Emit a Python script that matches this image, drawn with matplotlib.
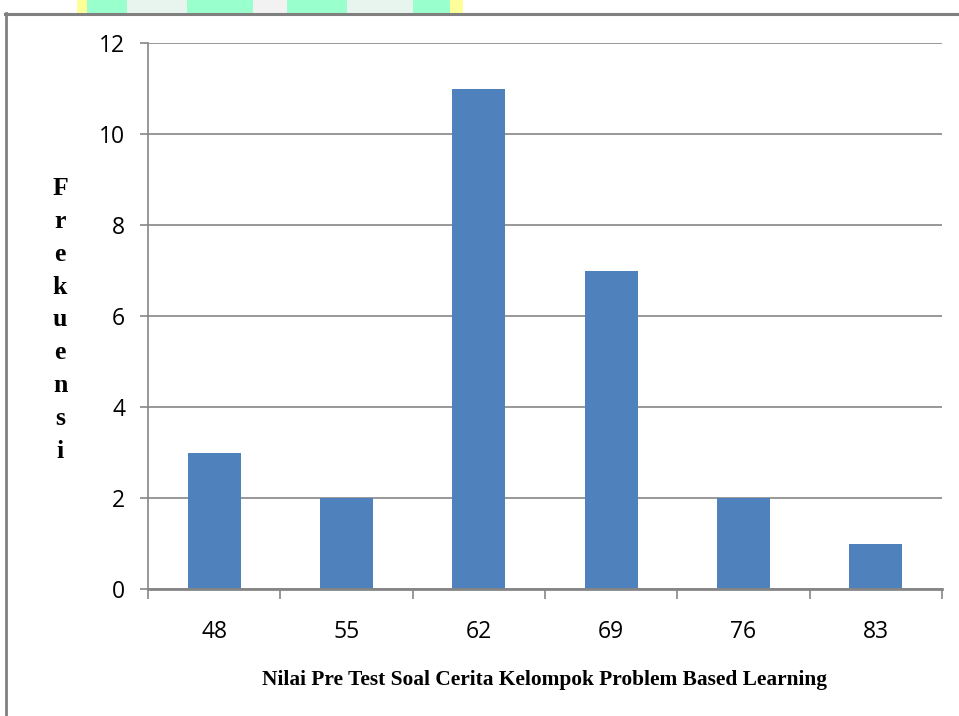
import matplotlib
matplotlib.use("Agg")
import matplotlib.pyplot as plt
from matplotlib.patches import Rectangle
from matplotlib.lines import Line2D
import numpy as np

categories = ["48", "55", "62", "69", "76", "83"]
values = [3, 2, 11, 7, 2, 1]
yticks = [0, 2, 4, 6, 8, 10, 12]
xlabel = "Nilai Pre Test Soal Cerita Kelompok Problem Based Learning"
ylabel = "Frekuensi"

W, H = 959, 716
fig = plt.figure(figsize=(W / 100, H / 100), dpi=100)

def fx(px):
    return px / W

def fy(py):
    return 1 - py / H

# watermark strip at top
strip = [(77, 87, "#FFFF99"), (87, 127, "#99FFCC"), (127, 187, "#E8F5EE"),
         (187, 253, "#99FFCC"), (253, 287, "#F2F2F2"), (287, 347, "#99FFCC"),
         (347, 413, "#E8F5EE"), (413, 450, "#99FFCC"), (450, 463, "#FFFF99")]
for x0, x1, c in strip:
    fig.add_artist(Rectangle((fx(x0), fy(13)), fx(x1) - fx(x0), 13 / H,
                             transform=fig.transFigure, color=c, lw=0, zorder=0))

# frame lines
fig.add_artist(Line2D([fx(6), fx(6)], [fy(13), 0], transform=fig.transFigure,
                      color="#808080", lw=2))
fig.add_artist(Line2D([fx(5), 1], [fy(13.5), fy(13.5)], transform=fig.transFigure,
                      color="#808080", lw=2.2))

ax = fig.add_axes([fx(148), fy(589), fx(942) - fx(148), (589 - 43) / H])
x = np.arange(len(categories))
ax.bar(x, values, width=0.4, color="#4F81BD", zorder=3)
ax.set_xlim(-0.5, len(categories) - 0.5)
ax.set_ylim(0, 12)
ax.set_yticks(yticks)
ax.yaxis.grid(True, color="#868686", lw=1.2, zorder=0)
for s in ["top", "right"]:
    ax.spines[s].set_visible(False)
ax.spines["left"].set_color("#868686")
ax.spines["left"].set_linewidth(1.2)
ax.spines["bottom"].set_color("#868686")
ax.spines["bottom"].set_linewidth(2)
ax.spines["bottom"].set_zorder(4)

ax.set_xticks(np.arange(len(categories) + 1) - 0.5)
ax.set_xticklabels([])
ax.set_xticks(x, minor=True)
ax.set_xticklabels(categories, minor=True, fontsize=16.5, family="Open Sans")
ax.tick_params(axis="x", which="major", length=7, width=1.2, color="#868686")
ax.tick_params(axis="x", which="minor", length=0, pad=22)
ax.tick_params(axis="y", length=6, width=1.2, color="#868686", pad=10.5)
for lab in ax.get_yticklabels():
    lab.set_fontsize(16.5)
    lab.set_family("Open Sans")

fig.text(fx(545), fy(680), xlabel, ha="center", va="center",
         fontsize=15.4, fontweight="bold", family="Liberation Serif")
fig.text(fx(60), fy(320), "\n".join(ylabel), ha="center", va="center",
         fontsize=18.5, fontweight="bold", family="Liberation Serif",
         linespacing=1.55)

fig.savefig("out.png", dpi=100)
